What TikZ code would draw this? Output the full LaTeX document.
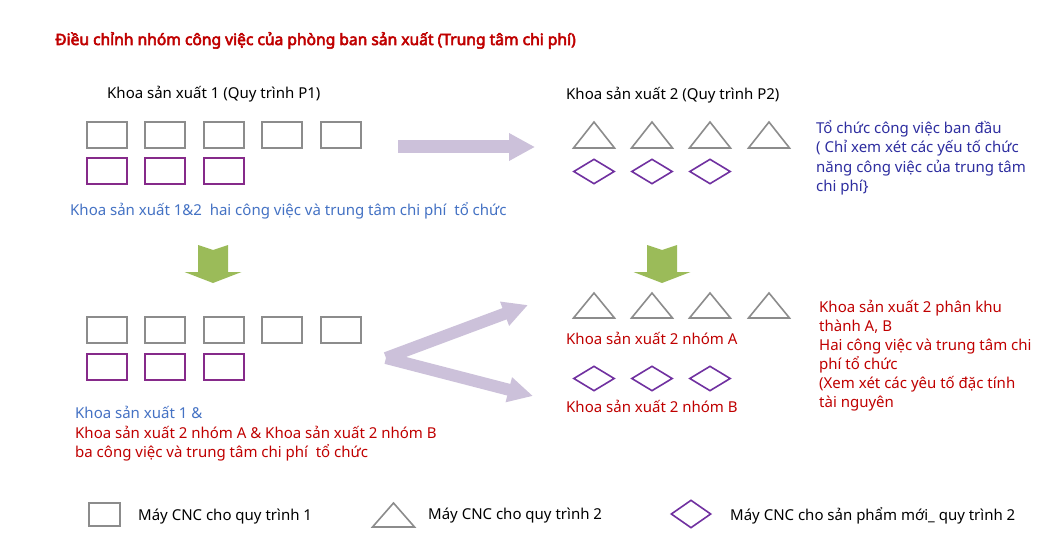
\documentclass[tikz,border=0pt]{standalone}
\usepackage{fontspec}
\setmainfont{Noto Sans}[AutoFakeBold=3.5]
\usetikzlibrary{shapes.geometric,arrows.meta}
\definecolor{gr}{HTML}{8C8C8C}
\definecolor{pr}{HTML}{862A8A}
\definecolor{dm}{HTML}{7030A0}
\definecolor{lav}{HTML}{CCC1DA}
\definecolor{grn}{HTML}{9BBB59}
\definecolor{bl}{HTML}{4472C4}
\definecolor{dbl}{HTML}{2E2EA0}
\definecolor{rd}{HTML}{C00000}
\begin{document}
\begin{tikzpicture}[x=1pt,y=-1pt,
  gbox/.style={draw=gr,line width=2pt,minimum width=40pt,minimum height=26pt,inner sep=0pt},
  pbox/.style={draw=pr,line width=2pt,minimum width=40pt,minimum height=26pt,inner sep=0pt},
  dia/.style={diamond,draw=dm,line width=1.6pt,minimum width=41pt,minimum height=25pt,inner sep=0pt},
  tri/.style={draw=gr,line width=1.6pt,line join=miter},
  txt/.style={anchor=base west,inner sep=0pt,font=\fontsize{15}{19}\selectfont},
  ttl/.style={anchor=base west,inner sep=0pt,font=\fontsize{15.6}{19}\selectfont\bfseries,text=rd},
  leg/.style={anchor=base west,inner sep=0pt,font=\fontsize{15}{18}\selectfont},
  flow/.style={draw=lav,line width=13pt,-{Triangle[width=26pt,length=26pt]}},
  split/.style={draw=lav,line width=12pt,-{Triangle[width=24pt,length=25pt]}},
  down/.style={fill=grn}
]
\useasboundingbox (0,0) rectangle (1058,559);
\fill[white] (0,0) rectangle (1058,559);

% title
\node[ttl] (title) at (55,45) {Điều chỉnh nhóm công việc của phòng ban sản xuất (Trung tâm chi phí)};

% ---------- top left
\node[txt] (h1) at (107,99) {Khoa sản xuất 1 (Quy trình P1)};
\foreach \i/\x in {1/106.5,2/165,3/223.5,4/282,5/340.5}
  \node[gbox] (ga\i) at (\x,135) {};
\foreach \i/\x in {1/106.5,2/165,3/223.5}
  \node[pbox] (pa\i) at (\x,171.5) {};
\node[txt,text=bl] (b1) at (70,215) {Khoa sản xuất 1\&2\ \ hai công việc và trung tâm chi phí\ \ tổ chức};

% ---------- top right
\node[txt] (h2) at (566,100) {Khoa sản xuất 2 (Quy trình P2)};
\foreach \i/\x in {1/594,2/652,3/710,4/769}{
  \coordinate (ta\i) at (\x,135);
  \draw[tri] (ta\i) ++(-20.5,13) -- ++(20.5,-26) -- ++(20.5,26) -- cycle;
}
\foreach \i/\x in {1/594,2/652,3/710}
  \node[dia] (da\i) at (\x,171.5) {};
\node[txt,text=dbl] (r1) at (816,134) {Tổ chức công việc ban đầu};
\node[txt,text=dbl] (r2) at (816,153) {( Chỉ xem xét các yếu tố chức};
\node[txt,text=dbl] (r3) at (816,172) {năng công việc của trung tâm};
\node[txt,text=dbl] (r4) at (816,192) {chi phí\}};

% right flow arrow
\coordinate (fa) at (398,147);
\coordinate (fb) at (535,147);
\draw[flow] (fa) -- (fb);

% green down arrows
\fill[down] (198,245) -- (213,250) -- (228,245) -- (228,272) -- (241.5,272) -- (213,283) -- (184.5,272) -- (198,272) -- cycle;
\fill[down] (647,245) -- (662,250) -- (677,245) -- (677,272) -- (690.5,272) -- (662,283) -- (633.5,272) -- (647,272) -- cycle;

% ---------- bottom left
\foreach \i/\x in {1/106.5,2/165,3/223.5,4/282,5/340.5}
  \node[gbox] (gb\i) at (\x,330) {};
\foreach \i/\x in {1/106.5,2/165,3/223.5}
  \node[pbox] (pb\i) at (\x,366.5) {};
\node[txt,text=bl] (l1) at (75,418) {Khoa sản xuất 1 \&};
\node[txt,text=rd] (l2) at (75,438) {Khoa sản xuất 2 nhóm A \& Khoa sản xuất 2 nhóm B};
\node[txt,text=rd] (l3) at (75,457) {ba công việc và trung tâm chi phí\ \ tổ chức};

% split arrows
\coordinate (sv) at (386,358);
\coordinate (su) at (528,305);
\coordinate (sd) at (533,396);
\draw[split] (sv) -- (su);
\draw[split] (sv) -- (sd);

% ---------- bottom right
\foreach \i/\x in {1/594,2/652,3/710,4/769}{
  \coordinate (tb\i) at (\x,305.5);
  \draw[tri] (tb\i) ++(-20.5,12.5) -- ++(20.5,-25) -- ++(20.5,25) -- cycle;
}
\node[txt,text=rd] (ga) at (566,344) {Khoa sản xuất 2 nhóm A};
\foreach \i/\x in {1/594,2/652,3/710}
  \node[dia] (db\i) at (\x,378.5) {};
\node[txt,text=rd] (gbt) at (566,412) {Khoa sản xuất 2 nhóm B};
\node[txt,text=rd] (q1) at (819,312) {Khoa sản xuất 2 phân khu};
\node[txt,text=rd] (q2) at (819,331) {thành A, B};
\node[txt,text=rd] (q3) at (819,350) {Hai công việc và trung tâm chi};
\node[txt,text=rd] (q4) at (819,369) {phí tổ chức};
\node[txt,text=rd] (q5) at (819,388) {(Xem xét các yêu tố đặc tính};
\node[txt,text=rd] (q6) at (819,407) {tài nguyên};

% ---------- legend
\node[draw=gr,line width=2pt,minimum width=31pt,minimum height=23pt,inner sep=0pt] (lg1) at (104.5,514.5) {};
\node[leg] (lt1) at (138,520) {Máy CNC cho quy trình 1};
\coordinate (lg2) at (393.5,515);
\draw[tri] (lg2) ++(-21,12) -- ++(21,-24) -- ++(21,24) -- cycle;
\node[leg] (lt2) at (428,519) {Máy CNC cho quy trình 2};
\node[diamond,draw=dm,line width=1.6pt,minimum width=40pt,minimum height=28pt,inner sep=0pt] (lg3) at (691,514) {};
\node[leg] (lt3) at (730,520) {Máy CNC cho sản phẩm mới\_ quy trình 2};
\end{tikzpicture}
\end{document}
